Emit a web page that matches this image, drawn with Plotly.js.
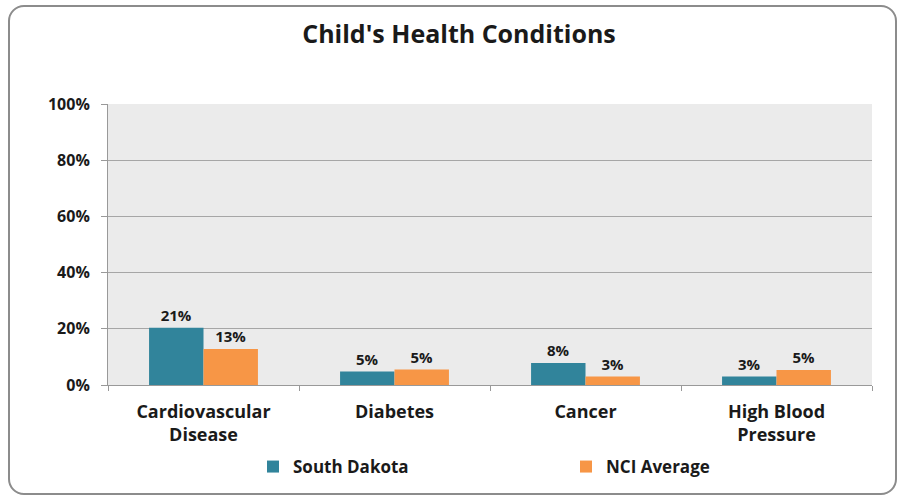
<!DOCTYPE html>
<html><head><meta charset="utf-8">
<script src="https://cdn.plot.ly/plotly-3.0.1.min.js"></script>
<style>
html,body{margin:0;padding:0;background:#fff;}
#wrap{position:relative;width:900px;height:499px;}
#chart{position:absolute;left:0;top:0;width:900px;height:499px;}
#frame{position:absolute;left:8px;top:5px;width:885px;height:486px;border:2px solid #8c8c8c;border-radius:16px;pointer-events:none;}
</style></head>
<body>
<div id="wrap"><div id="chart"></div><div id="frame"></div></div>
<script>
const categories = ["Cardiovascular<br>Disease", "Diabetes", "Cancer", "High Blood<br>Pressure"];
const southDakota = [20.4, 4.8, 7.8, 3.0];
const southDakotaLabels = ["21%", "5%", "8%", "3%"];
const nciAverage = [12.8, 5.5, 3.0, 5.3];
const nciAverageLabels = ["13%", "5%", "3%", "5%"];
const yTickVals = [0, 20, 40, 60, 80, 100];
const yTickText = ["0%", "20%", "40%", "60%", "80%", "100%"];

const fontFam = "'Open Sans', 'DejaVu Sans', sans-serif";
const traces = [
  {type:"bar", name:"South Dakota", x:categories, y:southDakota, text:southDakotaLabels,
   textposition:"outside", textfont:{family:fontFam, size:15, color:"#1a1a1a", weight:"bold"},
   marker:{color:"#31849B"}, cliponaxis:false, hoverinfo:"none"},
  {type:"bar", name:"NCI Average", x:categories, y:nciAverage, text:nciAverageLabels,
   textposition:"outside", textfont:{family:fontFam, size:15, color:"#1a1a1a", weight:"bold"},
   marker:{color:"#F79646"}, cliponaxis:false, hoverinfo:"none"}
];
const layout = {
  width:900, height:499,
  margin:{l:108, r:28, t:104, b:114},
  paper_bgcolor:"#ffffff", plot_bgcolor:"#ebebeb",
  font:{family:fontFam, color:"#1a1a1a"},
  title:{text:"<b>Child's Health Conditions</b>", xref:"container", x:0.51, xanchor:"center",
         yref:"container", y:1-34/499, yanchor:"middle", font:{size:25, family:fontFam, color:"#1a1a1a"}},
  barmode:"group", bargap:0.43, bargroupgap:0,
  xaxis:{type:"category", tickson:"boundaries", ticks:"outside", ticklen:5, tickcolor:"#999",
         ticklabelstandoff:10,
         showline:true, linecolor:"#999", linewidth:1, showgrid:false,
         tickfont:{size:18, family:fontFam, color:"#1a1a1a", weight:"bold"}},
  yaxis:{range:[0,100], tickvals:yTickVals, ticktext:yTickText, ticks:"outside", ticklen:6, tickcolor:"#999",
         ticklabelstandoff:8,
         showline:true, linecolor:"#999", linewidth:1, gridcolor:"#a6a6a6", gridwidth:1,
         zeroline:false, tickfont:{size:16, family:fontFam, color:"#1a1a1a", weight:"bold"}},
  showlegend:true,
  legend:{orientation:"h", x:(253-108)/764, xanchor:"left", y:-(467-385)/281, yanchor:"middle",
          entrywidth:268, entrywidthmode:"pixels",
          font:{size:17, family:fontFam, color:"#1a1a1a", weight:"bold"}, itemwidth:30}
};
Plotly.newPlot("chart", traces, layout, {displayModeBar:false, staticPlot:true});
</script>
</body></html>
